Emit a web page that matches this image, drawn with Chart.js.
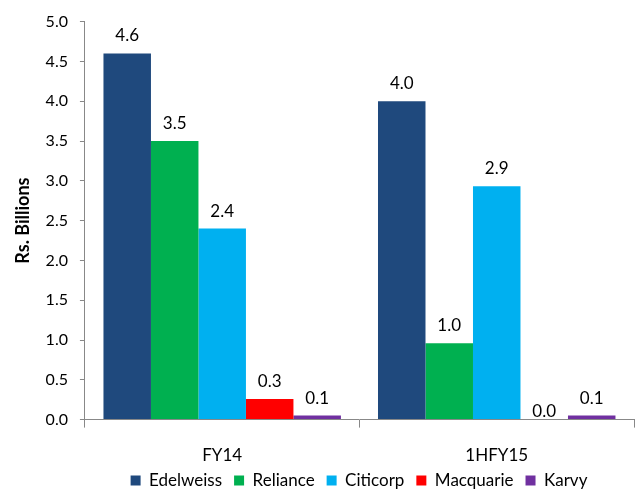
<!DOCTYPE html>
<html>
<head>
<meta charset="utf-8">
<script src="https://cdn.jsdelivr.net/npm/chart.js@4.4.0/dist/chart.umd.min.js"></script>
<style>
html,body{margin:0;padding:0;background:#fff;}
#wrap{width:638px;height:493px;position:relative;}
</style>
</head>
<body>
<div id="wrap"><canvas id="c"></canvas></div>
<script>
const categories = ["FY14", "1HFY15"];
const seriesNames = ["Edelweiss", "Reliance", "Citicorp", "Macquarie", "Karvy"];
const edelweiss = [4.6, 4.0];
const reliance = [3.5, 0.96];
const citicorp = [2.4, 2.93];
const macquarie = [0.26, 0.0];
const karvy = [0.05, 0.05];
const colors = ["#1F497D", "#00B050", "#00B0F0", "#FF0000", "#7030A0"];
const yTicks = [0, 0.5, 1, 1.5, 2, 2.5, 3, 3.5, 4, 4.5, 5];

const FONT = "Lato, 'Open Sans', sans-serif";
const seriesValues = [edelweiss, reliance, citicorp, macquarie, karvy];

const labelPlugin = {
  id: 'barLabels',
  afterDatasetsDraw(chart) {
    const ctx = chart.ctx;
    ctx.save();
    ctx.font = "17px " + FONT;
    ctx.fillStyle = "#000";
    ctx.textAlign = "center";
    ctx.textBaseline = "bottom";
    chart.data.datasets.forEach((ds, i) => {
      const meta = chart.getDatasetMeta(i);
      meta.data.forEach((bar, j) => {
        const v = ds.data[j];
        const off = v === 0 ? 0 : 9;
        ctx.fillText(v.toFixed(1), bar.x, bar.y - off);
      });
    });
    ctx.restore();
  }
};

const layoutTweak = {
  id: 'layoutTweak',
  afterLayout(chart) {
    const lg = chart.legend;
    if (lg) { lg.top += 6; lg.bottom += 6; lg.left += 36; lg.right += 36; }
    const x = chart.scales.x;
    if (x) { x.bottom += 35; }
  }
};

new Chart(document.getElementById('c'), {
  type: 'bar',
  data: {
    labels: categories,
    datasets: seriesNames.map((n, i) => ({
      label: n,
      data: seriesValues[i],
      backgroundColor: colors[i],
      borderWidth: 0,
      categoryPercentage: 0.865,
      barPercentage: 1.0
    }))
  },
  options: {
    responsive: true,
    maintainAspectRatio: false,
    animation: false,
    layout: { padding: { top: 8, right: 4, left: 12, bottom: 0 } },
    plugins: {
      legend: {
        position: 'bottom',
        labels: {
          font: { family: FONT, size: 17 },
          color: "#000",
          boxWidth: 10,
          boxHeight: 10,
          padding: 12
        }
      },
      tooltip: { enabled: false }
    },
    scales: {
      x: {
        afterFit(scale) { scale.height -= 30; },
        grid: { display: true, drawOnChartArea: false, drawTicks: true, tickLength: 8, color: "#888", offset: true },
        border: { color: "#888", width: 1 },
        ticks: { font: { family: FONT, size: 17 }, color: "#000", padding: 18 }
      },
      y: {
        min: 0, max: 5,
        afterBuildTicks(scale) { scale.ticks = yTicks.map(v => ({ value: v })); },
        grid: { display: true, drawOnChartArea: false, drawTicks: true, tickLength: 5, color: "#888" },
        border: { color: "#888", width: 1 },
        ticks: { font: { family: FONT, size: 16 }, color: "#000", padding: 12, callback: v => Number(v).toFixed(1) },
        title: { display: true, text: "Rs. Billions", font: { family: FONT, size: 18, weight: 'bold' }, color: "#000", padding: { top: 0, bottom: 0 } }
      }
    }
  },
  plugins: [labelPlugin, layoutTweak]
});
</script>
</body>
</html>
